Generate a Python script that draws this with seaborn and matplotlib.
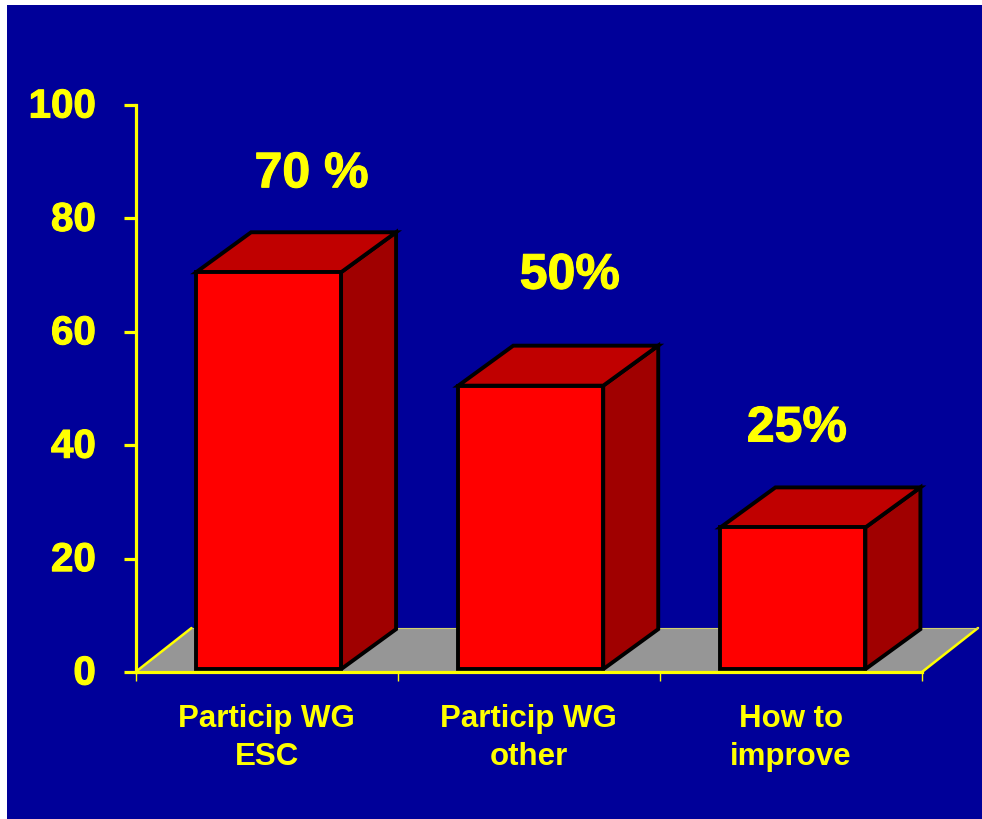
import matplotlib
matplotlib.use("Agg")
import matplotlib.pyplot as plt
import matplotlib.patheffects as pe
from matplotlib.patches import Rectangle
from matplotlib.ticker import FixedLocator
from matplotlib.transforms import ScaledTranslation
import seaborn as sns

# data
categories = ["Particip WG\nESC", "Particip WG\nother", "How to\nimprove"]
values = [70, 50, 25]
value_labels = ["70 %", "50%", "25%"]
y_ticks = [0, 20, 40, 60, 80, 100]

# label offsets from the back of each bar, in px
label_offsets = [(43, 98), (39, 110), (4, 99)]

NAVY = "#000099"
YELLOW = "#FFFF00"
W, H = 982, 819

sns.set_theme(style="white")
plt.rcParams["font.family"] = ["Liberation Sans", "DejaVu Sans"]

fig = plt.figure(figsize=(W / 100, H / 100), dpi=100, facecolor="white")
fig.add_artist(Rectangle((7 / W, 0), 1 - 7 / W, 1 - 5 / H, transform=fig.transFigure,
                         facecolor=NAVY, edgecolor="none", zorder=-5))

ax = fig.add_axes([135.5 / W, (H - 672) / H, 786.5 / W, 567 / H])
ax.set_facecolor("none")

sns.barplot(x=categories, y=values, color="#FF0000", saturation=1, width=0.553,
            edgecolor="black", linewidth=2.8, ax=ax, zorder=4)

ax.set_xlim(-0.5, 2.5)
ax.set_ylim(0, 100)

# px -> data scale for the fake 3D depth
px_x = 3 / 786.5
px_y = 100 / 567
dx, dy = 55 * px_x, 40 * px_y

# floor
fx, fy = 56 * px_x, 44 * px_y
ax.fill([-0.5, 2.5, 2.5 + fx, -0.5 + fx], [0, 0, fy, fy], color="#969696", lw=0, zorder=1, clip_on=False)
ax.plot([-0.5, -0.5 + fx], [0, fy], color=YELLOW, lw=1.8, zorder=2, clip_on=False)
ax.plot([2.5, 2.5 + fx], [0, fy], color=YELLOW, lw=1.8, zorder=2, clip_on=False)
ax.plot([-0.5 + fx, 2.5 + fx], [fy, fy], color="#D0D070", lw=0.8, zorder=2, clip_on=False)

# shift the bars a little and add the side and top faces
for patch, text, (ox, oy) in zip(ax.patches, value_labels, label_offsets):
    patch.set_x(patch.get_x() + 2 * px_x)
    patch.set_y(0.5)
    x0, x1 = patch.get_x(), patch.get_x() + patch.get_width()
    y0, y1 = patch.get_y(), patch.get_y() + patch.get_height()
    ax.fill([x1, x1 + dx, x1 + dx, x1], [y0, y0 + dy, y1 + dy, y1], facecolor="#A00000",
            edgecolor="black", lw=2.8, joinstyle="miter", zorder=3, clip_on=False)
    ax.fill([x0, x1, x1 + dx, x0 + dx], [y1, y1, y1 + dy, y1 + dy], facecolor="#C00000",
            edgecolor="black", lw=2.8, joinstyle="miter", zorder=3, clip_on=False)
    ax.annotate(text, xy=((x0 + x1) / 2, y1), xytext=(ox * 0.72, oy * 0.72),
                textcoords="offset points", ha="center", va="center",
                color=YELLOW, fontsize=36, fontweight="bold", zorder=6,
                path_effects=[pe.withStroke(linewidth=0.8, foreground=YELLOW)])

sns.despine(ax=ax)
for side in ["left", "bottom"]:
    ax.spines[side].set_color(YELLOW)
    ax.spines[side].set_linewidth(2.3)
    ax.spines[side].set_zorder(5)

ax.set_yticks(y_ticks)
ax.set_yticklabels([str(v) for v in y_ticks], fontsize=29, fontweight="bold", color=YELLOW)
ax.tick_params(axis="y", left=True, length=8.6, width=2.3, color=YELLOW, pad=20)
lift = ScaledTranslation(0, 2.5 / 100, fig.dpi_scale_trans)
for label in ax.get_yticklabels():
    label.set_transform(label.get_transform() + lift)
    label.set_path_effects([pe.withStroke(linewidth=0.8, foreground=YELLOW)])

# x ticks mark the category boundaries, labels sit between them
ax.xaxis.set_minor_locator(FixedLocator([-0.5, 0.5, 1.5, 2.5]))
ax.tick_params(axis="x", which="minor", bottom=True, length=6.5, width=1.0, color=YELLOW)
ax.tick_params(axis="x", which="major", bottom=False, length=0, pad=23)
for label in ax.get_xticklabels():
    label.set_fontsize(22.5)
    label.set_fontweight("bold")
    label.set_color(YELLOW)
    label.set_linespacing(1.34)

ax.set_xlabel("")
ax.set_ylabel("")

fig.savefig("out.png", dpi=100)
